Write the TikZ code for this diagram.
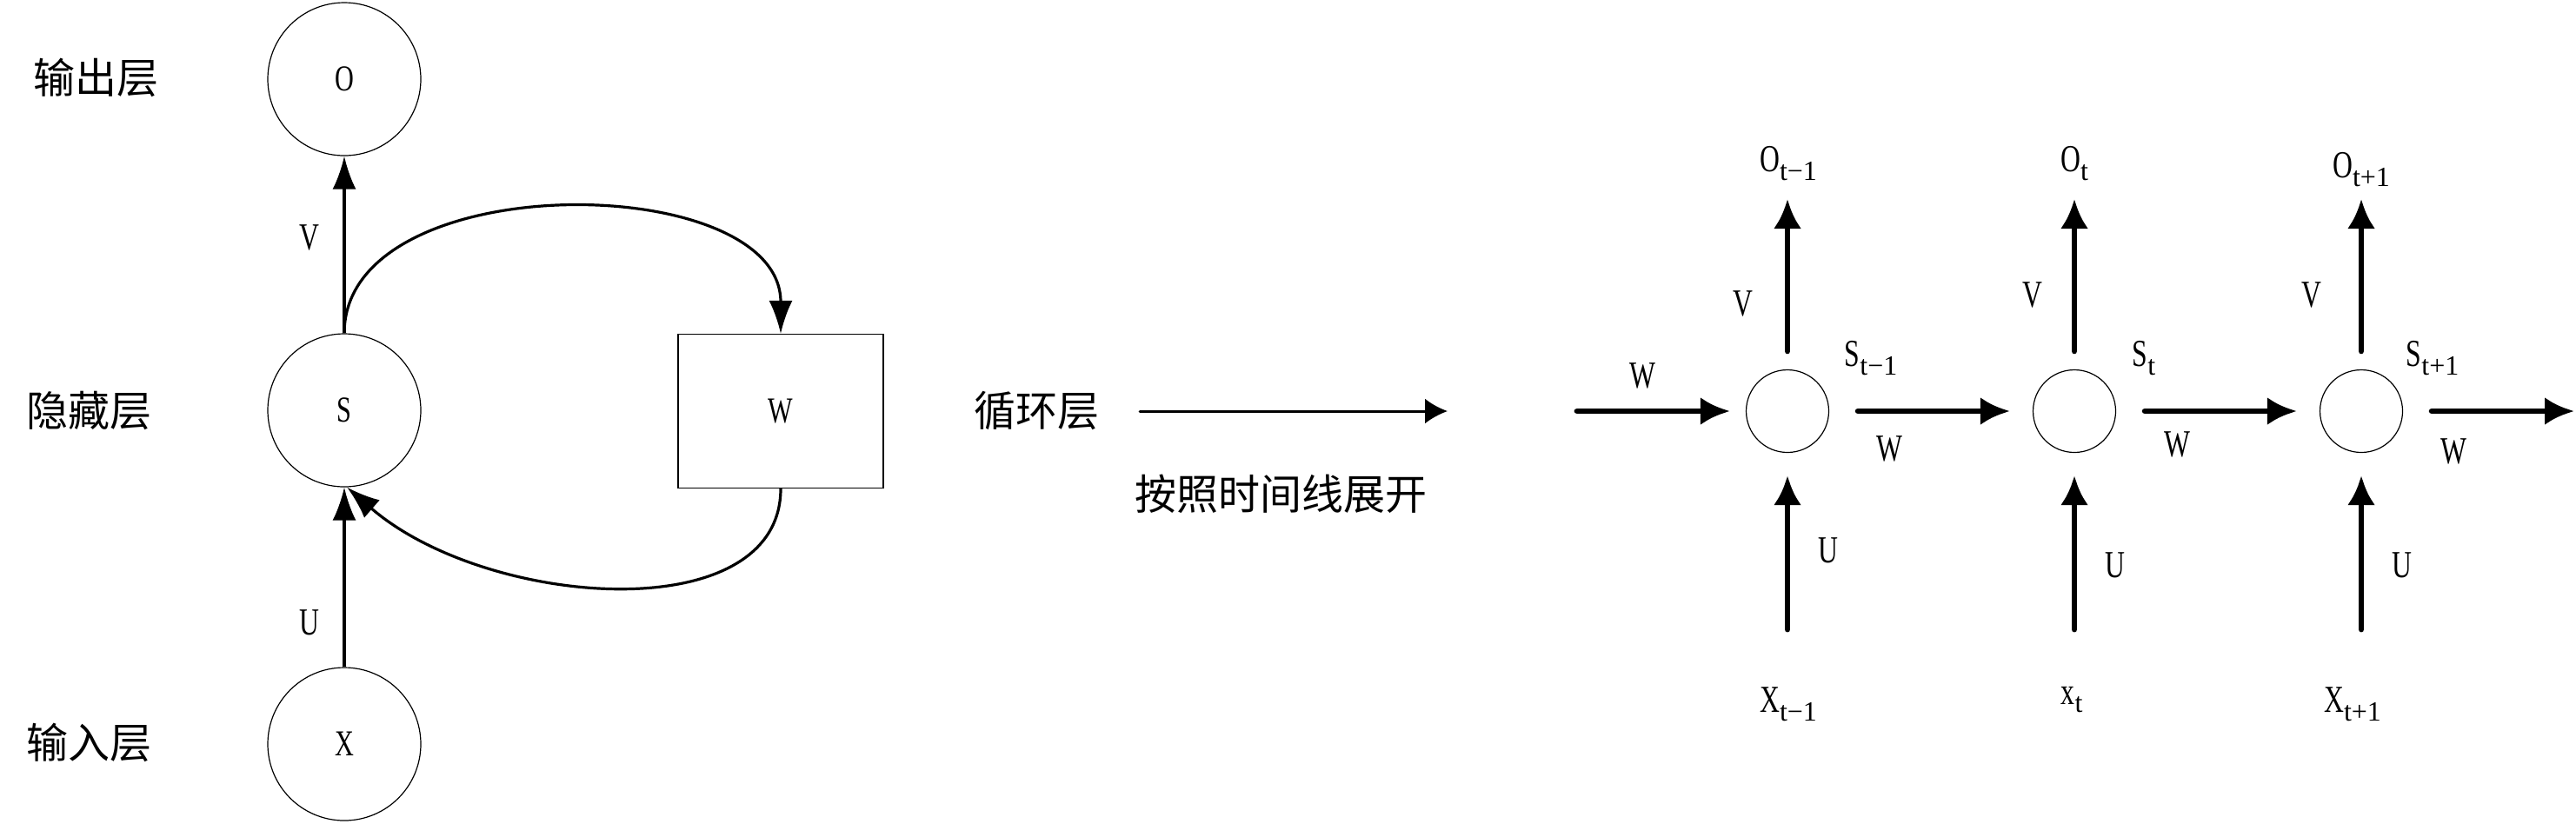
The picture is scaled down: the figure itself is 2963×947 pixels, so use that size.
\documentclass[tikz,border=0pt]{standalone}
\usepackage{fontspec}
\usetikzlibrary{arrows.meta,calc}
\newfontfamily\cjk{Noto Sans CJK SC}
\newfontfamily\lat[FakeStretch=0.72]{Liberation Serif}
\newfontfamily\latn{Liberation Serif}
\newcommand{\mysub}[1]{\raisebox{-2.4pt}{\latn\fontsize{8pt}{9pt}\selectfont #1}}
\begin{document}
\begin{tikzpicture}[x=0.25pt,y=-0.25pt,
 cn/.style={font=\cjk\fontsize{12pt}{14pt}\selectfont, inner sep=0},
 lb/.style={font=\lat\fontsize{11pt}{13pt}\selectfont, inner sep=0},
 bigc/.style={circle, draw, line width=0.3pt, minimum size=44pt, inner sep=0, font=\lat\fontsize{10.5pt}{13pt}\selectfont},
 smc/.style={circle, draw, line width=0.3pt, minimum size=23.75pt, inner sep=0},
 wbox/.style={rectangle, draw, line width=0.3pt, minimum width=59pt, minimum height=44.25pt, inner sep=0, font=\lat\fontsize{10.5pt}{13pt}\selectfont},
 arrA/.style={line width=0.8pt, -{Latex[length=9.5pt,width=6.75pt]}},
 arrM/.style={line width=0.75pt, line cap=round, -{Latex[length=6.5pt,width=7.25pt]}},
 arrB/.style={line width=1.7pt, line cap=round, -{Latex[length=8.5pt,width=8pt]}},
]
\useasboundingbox (0,0) rectangle (2963,947);

% ---- left: folded RNN
\node[bigc] (O) at (396,91) {O};
\node[bigc] (S) at (396,472) {S};
\node[bigc] (X) at (396,856) {X};
\node[wbox] (W) at (898,473) {W};

\node[cn] (lo) at (110,89) {输出层};
\node[cn] (lh) at (102,472) {隐藏层};
\node[cn] (li) at (102,854) {输入层};

\draw[arrA] (S.north) -- (O.south);
\draw[arrA] (X.north) -- (S.south);
\node[lb] (Vl) at (356,273) {V};
\node[lb] (Ul) at (356,716) {U};

\draw[arrA] (S.north) .. controls (396,190) and (898,195) .. (W.north);
\draw[arrA] (W.south) .. controls (898,725) and (560,700) .. (S.-88);

% ---- middle
\node[cn] (loop) at (1192,472) {循环层};
\coordinate (m1) at (1311,473);
\coordinate (m2) at (1665,473);
\draw[arrM] (m1) -- (m2);
\node[cn] (unroll) at (1473,568) {按照时间线展开};

% ---- right: unrolled RNN
\node[smc] (c1) at (2056,473) {};
\node[smc] (c2) at (2386,473) {};
\node[smc] (c3) at (2716,473) {};

\coordinate (win) at (1814,473);
\coordinate (wout) at (2961,473);
\draw[arrB] (win) -- ([xshift=-4.5pt]c1.west);
\draw[arrB] ([xshift=8.25pt]c1.east) -- ([xshift=-6.5pt]c2.west);
\draw[arrB] ([xshift=8.25pt]c2.east) -- ([xshift=-6.5pt]c3.west);
\draw[arrB] ([xshift=8.25pt]c3.east) -- (wout);

\foreach \i/\x in {1/2056,2/2386,3/2716}{
  \coordinate (ub\i) at (\x,724);
  \coordinate (ot\i) at (\x,229);
  \draw[arrB] (ub\i) -- ([yshift=-6.5pt]c\i.south);
  \draw[arrB] ([yshift=5.25pt]c\i.north) -- (ot\i);
}

\node[lb] (o1) at (2057,188) {O\mysub{t−1}};
\node[lb] (o2) at (2386,188) {O\mysub{t}};
\node[lb] (o3) at (2716,195) {O\mysub{t+1}};

\node[lb] (v1) at (2005,349) {V};
\node[lb] (v2) at (2338,339) {V};
\node[lb] (v3) at (2659,339) {V};

\node[lb] (s1) at (2152,412) {S\mysub{t−1}};
\node[lb] (s2) at (2466,412) {S\mysub{t}};
\node[lb] (s3) at (2798,412) {S\mysub{t+1}};

\node[lb] (w0) at (1889,432) {W};
\node[lb] (w1) at (2173,516) {W};
\node[lb] (w2) at (2504,511) {W};
\node[lb] (w3) at (2822,519) {W};

\node[lb] (u1) at (2103,633) {U};
\node[lb] (u2) at (2433,650) {U};
\node[lb] (u3) at (2763,650) {U};

\node[lb] (x1) at (2057,810) {X\mysub{t−1}};
\node[lb] (x2) at (2383,805) {x\mysub{t}};
\node[lb] (x3) at (2706,810) {X\mysub{t+1}};
\end{tikzpicture}
\end{document}
